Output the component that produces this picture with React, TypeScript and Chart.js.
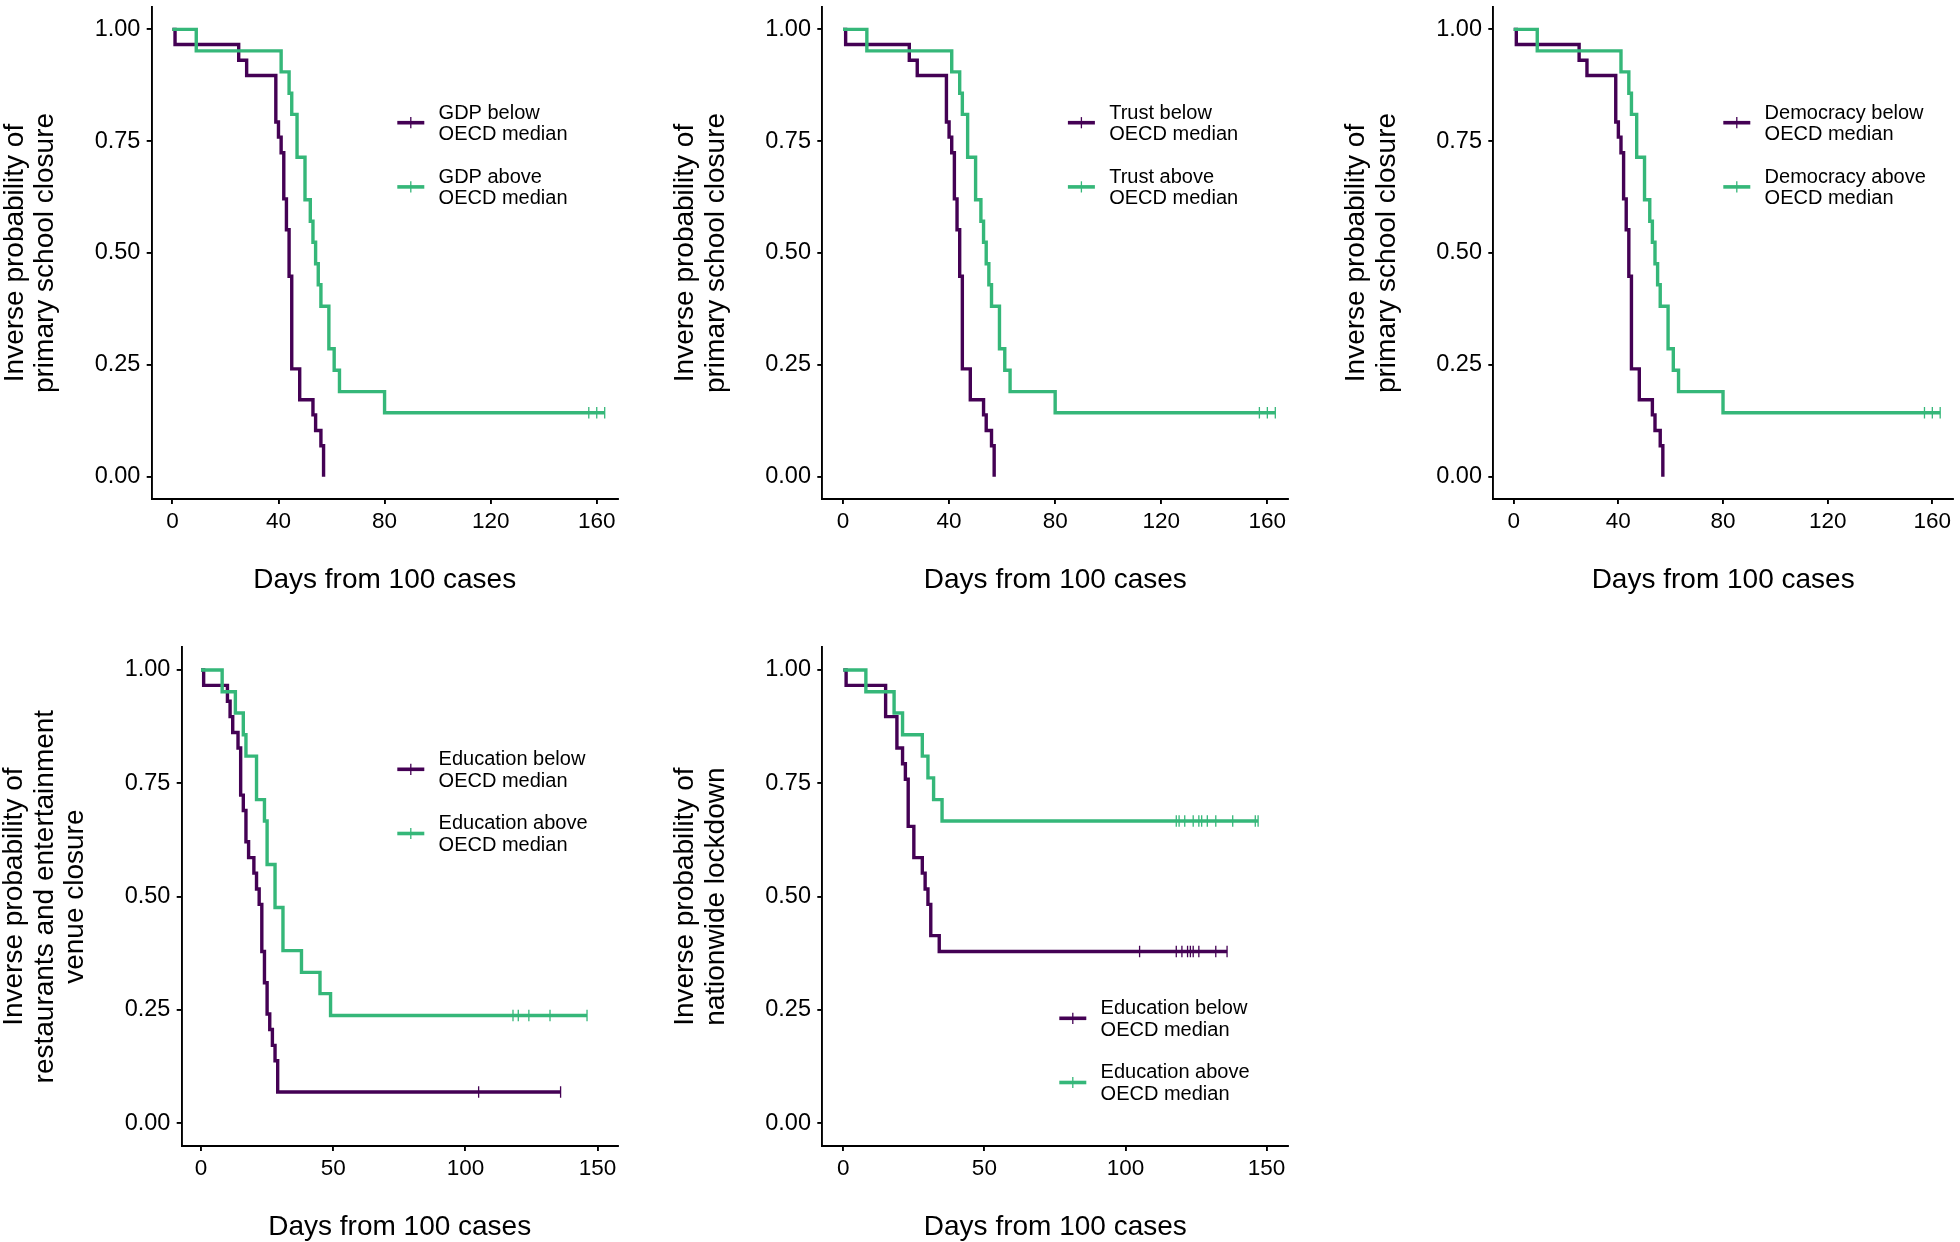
import React, { useEffect, useRef } from 'react';
import { Chart, registerables } from 'chart.js';

Chart.register(...registerables);

const FONT = "'Liberation Sans', Arial, Helvetica, sans-serif";
const PURPLE = '#440154';
const GREEN = '#35B779';
const W = 1960;
const H = 1242;

// ---- tick labels ----
const TOP_X_TICKS = [0, 40, 80, 120, 160];
const BOTTOM_X_TICKS = [0, 50, 100, 150];
const Y_TICKS = [0, 0.25, 0.5, 0.75, 1];

// ---- primary school closure (GDP / Trust / Democracy panels) ----
const schoolBelowDays = [0, 1, 25, 28, 39, 40, 41, 42, 43, 44, 45, 48, 53, 54, 56, 57];
const schoolBelowSurv = [1, 0.966, 0.931, 0.897, 0.793, 0.759, 0.724, 0.621, 0.552, 0.448, 0.241, 0.172, 0.138, 0.103, 0.069, 0];
const schoolBelowCensor: number[] = [];
const schoolAboveDays = [0, 9, 41, 44, 45, 47, 50, 52, 53, 54, 55, 56, 59, 61, 63, 80];
const schoolAboveSurv = [1, 0.952, 0.905, 0.857, 0.81, 0.714, 0.619, 0.571, 0.524, 0.476, 0.429, 0.381, 0.286, 0.238, 0.19, 0.143];
const schoolAboveCensor = [157, 160, 163];

// ---- restaurants & entertainment venue closure (education) ----
const restBelowDays = [0, 1, 10, 11, 12, 14, 15, 16, 17, 18, 20, 21, 22, 23, 24, 25, 26, 27, 28, 29];
const restBelowSurv = [1, 0.966, 0.931, 0.897, 0.862, 0.828, 0.724, 0.69, 0.621, 0.586, 0.552, 0.517, 0.483, 0.379, 0.31, 0.241, 0.207, 0.172, 0.138, 0.069];
const restBelowCensor = [105, 136];
const restAboveDays = [0, 8, 13, 16, 17, 21, 24, 25, 28, 31, 38, 45, 49];
const restAboveSurv = [1, 0.952, 0.905, 0.857, 0.81, 0.714, 0.667, 0.571, 0.476, 0.381, 0.333, 0.286, 0.238];
const restAboveCensor = [118, 120, 124, 132, 146];

// ---- nationwide lockdown (education) ----
const lockBelowDays = [0, 1, 15, 19, 21, 22, 23, 25, 28, 29, 30, 31, 34];
const lockBelowSurv = [1, 0.966, 0.897, 0.828, 0.793, 0.759, 0.655, 0.586, 0.552, 0.517, 0.483, 0.414, 0.379];
const lockBelowCensor = [105, 118, 120, 122, 123, 124, 126, 132, 136];
const lockAboveDays = [0, 8, 18, 21, 28, 30, 32, 35];
const lockAboveSurv = [1, 0.952, 0.905, 0.857, 0.81, 0.762, 0.714, 0.667];
const lockAboveCensor = [118, 119, 121, 124, 126, 127, 129, 132, 138, 146, 147];

// ---- text ----
const X_TITLE = 'Days from 100 cases';
const SCHOOL_TITLE = ['Inverse probability of', 'primary school closure'];
const REST_TITLE = ['Inverse probability of', 'restaurants and entertainment', 'venue closure'];
const LOCK_TITLE = ['Inverse probability of', 'nationwide lockdown'];

type Series = { days: number[]; surv: number[]; censor: number[] };

function kmPoints(s: Series) {
  const pts = s.days.map((d, i) => ({ x: d, y: s.surv[i] }));
  const last = s.surv[s.surv.length - 1];
  if (s.censor.length) {
    const lc = s.censor[s.censor.length - 1];
    if (lc > s.days[s.days.length - 1]) pts.push({ x: lc, y: last });
  }
  return pts;
}
function censorPoints(s: Series) {
  const last = s.surv[s.surv.length - 1];
  return s.censor.map((c) => ({ x: c, y: last }));
}

const schoolBelow = { days: schoolBelowDays, surv: schoolBelowSurv, censor: schoolBelowCensor };
const schoolAbove = { days: schoolAboveDays, surv: schoolAboveSurv, censor: schoolAboveCensor };

const PANELS = [
  {
    regionLeft: 0, left: 151.7, right: 617.7, top: 0.8, bottom: 499, xMin: -7.8, xMax: 167.9,
    xTicks: TOP_X_TICKS, yTitle: SCHOOL_TITLE, below: schoolBelow, above: schoolAbove,
    legend: { x: 397.3, y: 122.7, labels: [['GDP below', 'OECD median'], ['GDP above', 'OECD median']] },
  },
  {
    regionLeft: 640, left: 822.3, right: 1288.3, top: 0.8, bottom: 499, xMin: -7.8, xMax: 167.9,
    xTicks: TOP_X_TICKS, yTitle: SCHOOL_TITLE, below: schoolBelow, above: schoolAbove,
    legend: { x: 1067.9, y: 122.7, labels: [['Trust below', 'OECD median'], ['Trust above', 'OECD median']] },
  },
  {
    regionLeft: 1310, left: 1493.3, right: 1959, top: 0.8, bottom: 499, xMin: -7.8, xMax: 167.9,
    xTicks: TOP_X_TICKS, yTitle: SCHOOL_TITLE, below: schoolBelow, above: schoolAbove,
    legend: { x: 1723.3, y: 122.7, labels: [['Democracy below', 'OECD median'], ['Democracy above', 'OECD median']] },
  },
  {
    regionLeft: 0, left: 181.7, right: 617.7, top: 647.3, bottom: 1146, xMin: -7.3, xMax: 157.6,
    xTicks: BOTTOM_X_TICKS, yTitle: REST_TITLE,
    below: { days: restBelowDays, surv: restBelowSurv, censor: restBelowCensor },
    above: { days: restAboveDays, surv: restAboveSurv, censor: restAboveCensor },
    legend: { x: 397.3, y: 769.3, labels: [['Education below', 'OECD median'], ['Education above', 'OECD median']] },
  },
  {
    regionLeft: 640, left: 822.3, right: 1288.3, top: 647.3, bottom: 1146, xMin: -7.44, xMax: 157.7,
    xTicks: BOTTOM_X_TICKS, yTitle: LOCK_TITLE,
    below: { days: lockBelowDays, surv: lockBelowSurv, censor: lockBelowCensor },
    above: { days: lockAboveDays, surv: lockAboveSurv, censor: lockAboveCensor },
    legend: { x: 1059.3, y: 1018.3, labels: [['Education below', 'OECD median'], ['Education above', 'OECD median']] },
  },
];

const kmLegend = {
  id: 'kmLegend',
  afterDraw(chart: any, _args: any, opts: any) {
    if (!opts || !opts.items) return;
    const ctx = chart.ctx;
    ctx.save();
    opts.items.forEach((it: any, i: number) => {
      const y = opts.y + i * 64.2;
      const x = opts.x;
      ctx.strokeStyle = it.color;
      ctx.lineCap = 'butt';
      ctx.lineWidth = 3.6;
      ctx.beginPath();
      ctx.moveTo(x, y);
      ctx.lineTo(x + 27, y);
      ctx.stroke();
      ctx.lineWidth = 1.3;
      ctx.beginPath();
      ctx.moveTo(x + 13.5, y - 5.6);
      ctx.lineTo(x + 13.5, y + 5.6);
      ctx.stroke();
      ctx.fillStyle = '#000';
      ctx.font = `20px ${FONT}`;
      ctx.textBaseline = 'middle';
      ctx.textAlign = 'left';
      it.lines.forEach((ln: string, j: number) => {
        ctx.fillText(ln, x + 41.3, y + 1.2 + (j - (it.lines.length - 1) / 2) * 21.6);
      });
    });
    ctx.restore();
  },
};

function Panel({ cfg }: { cfg: any }) {
  const ref = useRef<HTMLCanvasElement | null>(null);
  useEffect(() => {
    if (!ref.current) return;
    const yLH = 28 * 1.1;
    const line1 = cfg.left - 106 - yLH * (cfg.yTitle.length - 1);
    const Wy = cfg.left - cfg.regionLeft;
    const padTop = line1 - yLH / 2 - cfg.regionLeft;
    const Hx = 96;
    const xTitleCenter = cfg.bottom + 80.8;
    const padBottom = cfg.bottom + Hx - xTitleCenter - 14;

    const axisCommon = {
      grid: { display: true, drawOnChartArea: false, drawTicks: true, tickLength: 5, color: '#000', lineWidth: 1.9 },
      border: { display: true, color: '#000', width: 1.9 },
    };

    const chart = new Chart(ref.current, {
      type: 'line',
      data: {
        datasets: [
          {
            label: cfg.legend.labels[1].join(' '),
            data: kmPoints(cfg.above),
            borderColor: GREEN,
            backgroundColor: GREEN,
            borderWidth: 3.4,
            stepped: 'before',
            pointRadius: 0,
            fill: false,
          },
          {
            label: 'above censored',
            data: censorPoints(cfg.above),
            showLine: false,
            pointStyle: 'line',
            pointRotation: 90,
            pointRadius: 5.7,
            pointBorderWidth: 1.3,
            pointBorderColor: GREEN,
            borderColor: GREEN,
          },
          {
            label: cfg.legend.labels[0].join(' '),
            data: kmPoints(cfg.below),
            borderColor: PURPLE,
            backgroundColor: PURPLE,
            borderWidth: 3.4,
            stepped: 'before',
            pointRadius: 0,
            fill: false,
          },
          {
            label: 'below censored',
            data: censorPoints(cfg.below),
            showLine: false,
            pointStyle: 'line',
            pointRotation: 90,
            pointRadius: 5.7,
            pointBorderWidth: 1.3,
            pointBorderColor: PURPLE,
            borderColor: PURPLE,
          },
        ],
      } as any,
      options: {
        animation: false,
        responsive: false,
        events: [],
        layout: {
          padding: { left: cfg.regionLeft, top: cfg.top, right: W - cfg.right, bottom: H - cfg.bottom - Hx },
        },
        plugins: {
          legend: { display: false },
          tooltip: { enabled: false },
          kmLegend: {
            x: cfg.legend.x,
            y: cfg.legend.y,
            items: [
              { color: PURPLE, lines: cfg.legend.labels[0] },
              { color: GREEN, lines: cfg.legend.labels[1] },
            ],
          },
        } as any,
        scales: {
          x: {
            type: 'linear',
            position: 'bottom',
            min: cfg.xMin,
            max: cfg.xMax,
            afterBuildTicks: (s: any) => {
              s.ticks = cfg.xTicks.map((v: number) => ({ value: v }));
            },
            afterFit: (s: any) => {
              s.height = Hx;
              s.paddingLeft = 0;
              s.paddingRight = 0;
            },
            ticks: {
              font: { family: FONT, size: 22.5 },
              color: '#000',
              padding: 3.8,
              maxRotation: 0,
              autoSkip: false,
              callback: (v: any) => String(v),
            },
            title: {
              display: true,
              text: X_TITLE,
              color: '#000',
              font: { family: FONT, size: 28, lineHeight: 1 },
              padding: { top: 0, bottom: padBottom },
            },
            ...axisCommon,
          },
          y: {
            type: 'linear',
            position: 'left',
            min: -0.05,
            max: 1.05,
            afterBuildTicks: (s: any) => {
              s.ticks = Y_TICKS.map((v) => ({ value: v }));
            },
            afterFit: (s: any) => {
              s.width = Wy;
              s.paddingTop = 0;
              s.paddingBottom = 0;
            },
            ticks: {
              font: { family: FONT, size: 23.5 },
              color: '#000',
              padding: 6.3,
              autoSkip: false,
              callback: (v: any) => Number(v).toFixed(2),
            },
            title: {
              display: true,
              text: cfg.yTitle,
              color: '#000',
              font: { family: FONT, size: 28, lineHeight: 1.1 },
              padding: { top: padTop, bottom: 0 },
            },
            ...axisCommon,
          },
        },
      } as any,
      plugins: [kmLegend as any],
    });
    return () => chart.destroy();
  }, [cfg]);
  return (
    <canvas
      ref={ref}
      width={W}
      height={H}
      style={{ position: 'absolute', left: 0, top: 0, width: W, height: H }}
    />
  );
}

export default function App() {
  return (
    <div style={{ position: 'absolute', left: 0, top: 0, width: W, height: H, background: '#fff', overflow: 'hidden' }}>
      {PANELS.map((p, i) => (
        <Panel key={i} cfg={p} />
      ))}
    </div>
  );
}
